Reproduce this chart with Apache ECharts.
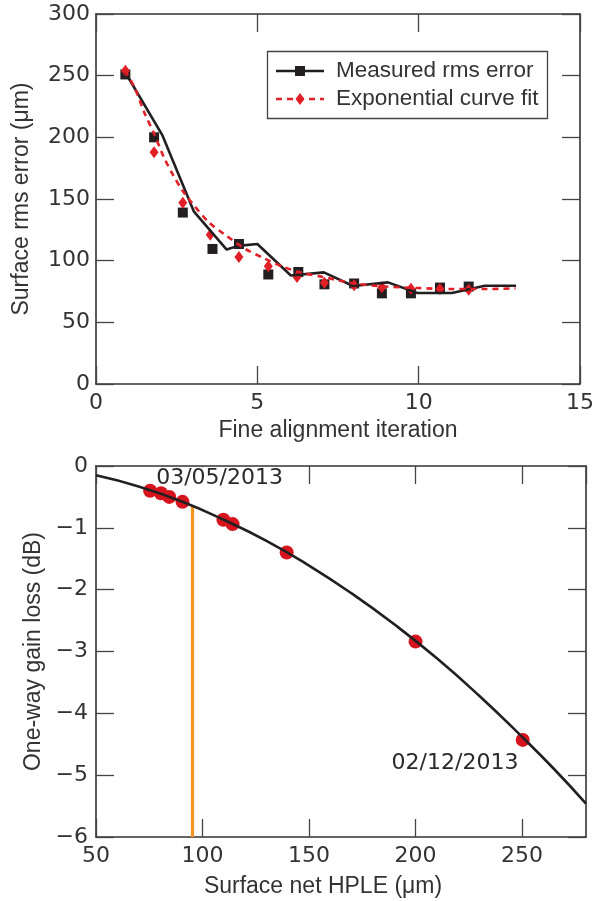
<!DOCTYPE html>
<html>
<head>
<meta charset="utf-8">
<title>Fine alignment</title>
<script src="https://cdn.jsdelivr.net/npm/echarts@6/dist/echarts.min.js"></script>
<style>
  html, body { margin: 0; padding: 0; background: #fff; }
  #chart { width: 597px; height: 901px; }
</style>
</head>
<body>
<div id="chart"></div>
<script>
// top panel: measured rms error vs iteration
const lineX = [0.9, 2.05, 3.03, 4.05, 4.4, 5.0, 6.04, 7.06, 7.97, 9.05, 9.96, 11.03, 12.05, 13.02];
const lineY = [253, 202, 140, 109, 112, 113.5, 88, 90.5, 79.5, 82.4, 73.8, 73.8, 79.7, 79.7];
const squareX = [0.91, 1.8, 2.69, 3.61, 4.43, 5.34, 6.27, 7.08, 8.0, 8.86, 9.76, 10.66, 11.55];
const squareY = [251, 200, 139, 109.5, 113.5, 88.8, 90.8, 80.8, 81.5, 73.5, 73.5, 78.2, 79];
const fitX = [0.9, 1.2, 1.5, 1.8, 2.1, 2.4, 2.7, 3.0, 3.5, 4.0, 4.6, 5.2, 5.8, 6.4, 7.0, 8.0, 9.0, 10.0, 11.0, 12.0, 13.0];
const fitY = [254, 240, 220, 203, 184, 169, 156, 146, 131, 121, 110, 102, 95, 90, 87, 81.5, 79, 77.8, 77, 77, 77.5];
const diamondX = [0.91, 1.8, 2.69, 3.54, 4.43, 5.34, 6.23, 7.08, 8.0, 8.86, 9.76, 10.66, 11.55];
const diamondY = [254, 188, 147, 121, 103, 95.4, 86.8, 82, 80, 78.5, 77.3, 77, 76.5];

// bottom panel: gain loss vs HPLE
const hpleX = [75.4, 80.5, 84.4, 90.6, 109.8, 114.1, 139.5, 200, 250.3];
const lossY = [-0.40, -0.44, -0.50, -0.58, -0.87, -0.94, -1.40, -2.84, -4.43];
const curveX = [50, 70, 90, 110, 130, 150, 170, 190, 210, 230, 250, 265, 280];
const curveY = [-0.15, -0.33, -0.57, -0.87, -1.21, -1.61, -2.06, -2.56, -3.11, -3.72, -4.38, -4.90, -5.46];
const cutoffX = [95.3, 95.3];
const cutoffY = [-0.66, -6];
const dateText = ['03/05/2013', '02/12/2013'];
const dateX = [108, 218.5];
const dateY = [-0.2, -4.81];

const zip = (xs, ys) => xs.map((x, i) => [x, ys[i]]);

const ink = '#231f20';
const red = '#e01f26';
const numFont = 'DejaVu Sans';
const txtFont = 'Liberation Sans';

const tickStyle = { inside: true, length: 18, lineStyle: { color: '#444', width: 1.3 } };
const lineStyle = { onZero: false, lineStyle: { color: '#333', width: 1.6 } };

function frameAxis(extra) {
  return Object.assign({
    type: 'value',
    axisLine: lineStyle,
    axisTick: tickStyle,
    splitLine: { show: false },
    axisLabel: { show: false }
  }, extra);
}

const nameStyle = { fontSize: 23, fontFamily: txtFont, color: '#333' };
const labelStyle = { show: true, fontSize: 22, fontFamily: numFont, color: '#333' };

const chart = echarts.init(document.getElementById('chart'));

chart.setOption({
  animation: false,
  grid: [
    { left: 96, right: 11, top: 14, height: 370 },
    { left: 96, right: 11, top: 466, height: 371 }
  ],
  xAxis: [
    frameAxis({
      gridIndex: 0, min: 0, max: 15, interval: 5, position: 'bottom',
      axisLabel: Object.assign({ margin: 8 }, labelStyle),
      name: 'Fine alignment iteration', nameLocation: 'middle', nameGap: 35,
      nameTextStyle: nameStyle
    }),
    frameAxis({ gridIndex: 0, min: 0, max: 15, interval: 5, position: 'top' }),
    frameAxis({
      gridIndex: 1, min: 50, max: 280, interval: 50, position: 'bottom',
      axisLabel: Object.assign({ margin: 8, showMaxLabel: false }, labelStyle),
      name: 'Surface net HPLE (\u03bcm)', nameLocation: 'middle', nameGap: 38,
      nameTextStyle: Object.assign({ padding: [0, 36, 0, 0] }, nameStyle)
    }),
    frameAxis({ gridIndex: 1, min: 50, max: 280, interval: 50, position: 'top' })
  ],
  yAxis: [
    frameAxis({
      gridIndex: 0, min: 0, max: 300, interval: 50, position: 'left',
      axisLabel: Object.assign({ margin: 6 }, labelStyle),
      name: 'Surface rms error (\u03bcm)', nameLocation: 'middle', nameGap: 63,
      nameTextStyle: nameStyle
    }),
    frameAxis({ gridIndex: 0, min: 0, max: 300, interval: 50, position: 'right' }),
    frameAxis({
      gridIndex: 1, min: -6, max: 0, interval: 1, position: 'left',
      axisLabel: Object.assign({
        margin: 8,
        formatter: v => String(v).replace('-', '\u2212')
      }, labelStyle),
      name: 'One-way gain loss (dB)', nameLocation: 'middle', nameGap: 50,
      nameTextStyle: nameStyle
    }),
    frameAxis({ gridIndex: 1, min: -6, max: 0, interval: 1, position: 'right' })
  ],
  series: [
    {
      name: 'Measured points', type: 'scatter', xAxisIndex: 0, yAxisIndex: 0,
      symbol: 'rect', symbolSize: 10, itemStyle: { color: ink, opacity: 1 }, z: 2,
      data: zip(squareX, squareY)
    },
    {
      name: 'Fit points', type: 'scatter', xAxisIndex: 0, yAxisIndex: 0,
      symbol: 'diamond', symbolSize: [9, 12], itemStyle: { color: red, opacity: 1 }, z: 3,
      data: zip(diamondX, diamondY)
    },
    {
      name: 'Measured rms error', type: 'line', xAxisIndex: 0, yAxisIndex: 0,
      showSymbol: false, symbol: 'none', z: 4,
      lineStyle: { color: ink, width: 2.6 },
      data: zip(lineX, lineY)
    },
    {
      name: 'Exponential curve fit', type: 'line', xAxisIndex: 0, yAxisIndex: 0,
      showSymbol: false, symbol: 'none', smooth: 0.3, z: 5,
      lineStyle: { color: red, width: 2.6, type: [6, 5] },
      data: zip(fitX, fitY)
    },
    {
      name: 'Dates', type: 'scatter', xAxisIndex: 2, yAxisIndex: 2,
      symbolSize: 0, z: 1, itemStyle: { opacity: 1 },
      label: {
        show: true, position: 'inside', fontSize: 22, fontFamily: numFont, color: '#2a2a2a',
        backgroundColor: '#fff', padding: [0, 1],
        formatter: p => p.data[2]
      },
      data: dateX.map((x, i) => [x, dateY[i], dateText[i]])
    },
    {
      name: 'Cutoff', type: 'line', xAxisIndex: 2, yAxisIndex: 2,
      showSymbol: false, symbol: 'none', z: 2,
      lineStyle: { color: '#f7941d', width: 3.2 },
      data: zip(cutoffX, cutoffY)
    },
    {
      name: 'Gain loss', type: 'scatter', xAxisIndex: 2, yAxisIndex: 2,
      symbol: 'circle', symbolSize: 14, itemStyle: { color: '#d7141d', opacity: 1 }, z: 3,
      data: zip(hpleX, lossY)
    },
    {
      name: 'Gain curve', type: 'line', xAxisIndex: 2, yAxisIndex: 2,
      showSymbol: false, symbol: 'none', smooth: true, z: 4,
      lineStyle: { color: ink, width: 2.6 },
      data: zip(curveX, curveY)
    }
  ],
  graphic: [
    { type: 'rect', shape: { x: 267.5, y: 51.5, width: 280, height: 67 },
      style: { fill: '#fff', stroke: '#444', lineWidth: 1.3 }, z: 10 },
    { type: 'line', shape: { x1: 276, y1: 71, x2: 324, y2: 71 },
      style: { stroke: ink, lineWidth: 2.6 }, z: 11 },
    { type: 'rect', shape: { x: 295, y: 66, width: 10, height: 10 },
      style: { fill: ink }, z: 11 },
    { type: 'text', x: 336, y: 71, z: 11,
      style: { text: 'Measured rms error', font: '22.5px "Liberation Sans"', fill: '#333', verticalAlign: 'middle' } },
    { type: 'line', shape: { x1: 276, y1: 99, x2: 324, y2: 99 },
      style: { stroke: red, lineWidth: 2.6, lineDash: [6, 5] }, z: 11 },
    { type: 'polygon', shape: { points: [[300, 93], [304.5, 99], [300, 105], [295.5, 99]] },
      style: { fill: red }, z: 12 },
    { type: 'text', x: 336, y: 99, z: 11,
      style: { text: 'Exponential curve fit', font: '22.5px "Liberation Sans"', fill: '#333', verticalAlign: 'middle' } }
  ]
});
</script>
</body>
</html>
